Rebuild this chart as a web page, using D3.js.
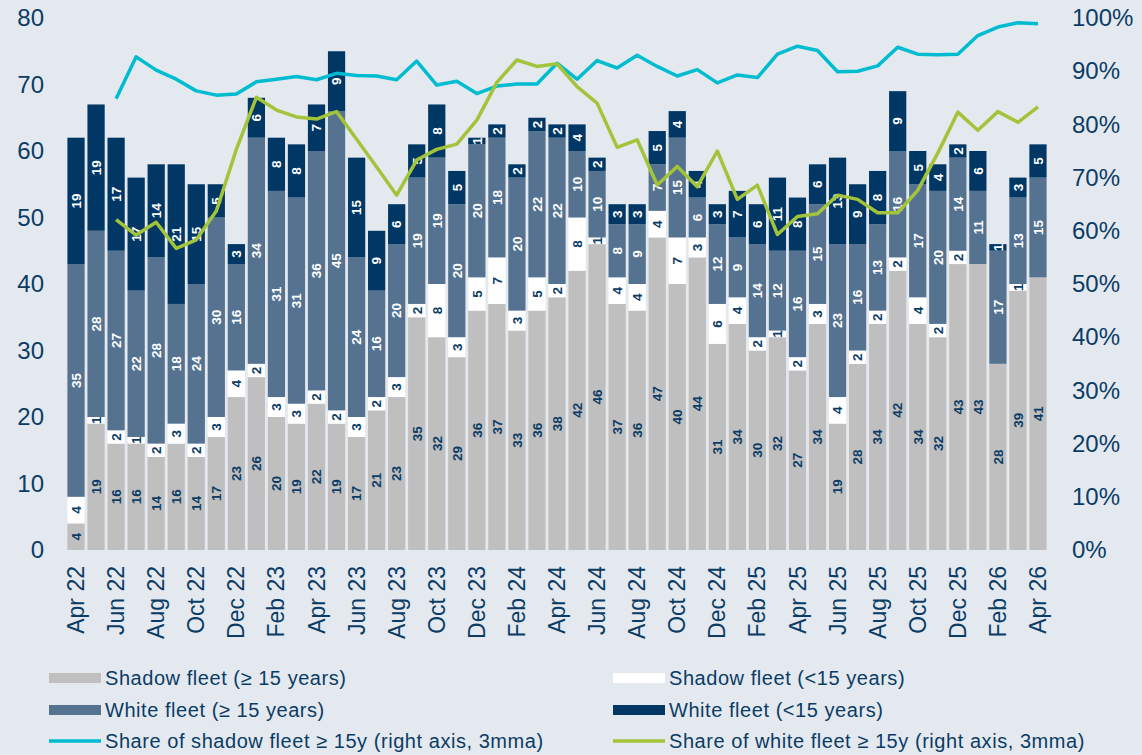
<!DOCTYPE html>
<html>
<head>
<meta charset="utf-8">
<script src="https://cdn.jsdelivr.net/npm/d3@7"></script>
<style>
  html, body { margin: 0; padding: 0; background: #e4e9ef; }
  svg { display: block; font-family: "Liberation Sans", Arial, sans-serif; }
</style>
</head>
<body>
<div id="chart"></div>
<script>
// months Apr 22 .. Apr 26
const months = ["Apr 22","May 22","Jun 22","Jul 22","Aug 22","Sep 22","Oct 22","Nov 22","Dec 22",
  "Jan 23","Feb 23","Mar 23","Apr 23","May 23","Jun 23","Jul 23","Aug 23","Sep 23","Oct 23","Nov 23","Dec 23",
  "Jan 24","Feb 24","Mar 24","Apr 24","May 24","Jun 24","Jul 24","Aug 24","Sep 24","Oct 24","Nov 24","Dec 24",
  "Jan 25","Feb 25","Mar 25","Apr 25","May 25","Jun 25","Jul 25","Aug 25","Sep 25","Oct 25","Nov 25","Dec 25",
  "Jan 26","Feb 26","Mar 26","Apr 26"];

// bar segments (number of vessels)
const shadowOld   = [4,19,16,16,14,16,14,17,23,26,20,19,22,19,17,21,23,35,32,29,36,37,33,36,38,42,46,37,36,47,40,44,31,34,30,32,27,34,19,28,34,42,34,32,43,43,28,39,41];
const shadowYoung = [4,1,2,1,2,3,2,3,4,2,3,3,2,2,3,2,3,2,8,3,5,7,3,5,2,8,1,4,4,4,7,3,6,4,2,1,2,3,4,2,2,2,4,2,2,0,0,1,0];
const whiteOld    = [35,28,27,22,28,18,24,30,16,34,31,31,36,45,24,16,20,19,19,20,20,18,20,22,22,10,10,8,9,7,15,6,12,9,14,12,16,15,23,16,13,16,17,20,14,11,17,13,15];
const whiteYoung  = [19,19,17,17,14,21,15,5,3,6,8,8,7,9,15,9,6,5,8,5,1,2,2,2,2,4,2,3,3,5,4,4,3,7,6,11,8,6,13,9,8,9,5,4,2,6,1,3,5];

// right axis lines (%, 3mma), first two months empty
const shadowShare = [null,null,84.8,92.7,90.2,88.5,86.3,85.5,85.7,88.0,88.5,89.0,88.4,89.6,89.2,89.1,88.4,91.9,87.4,88.1,85.8,87.2,87.6,87.6,91.5,88.5,92.0,90.6,93.0,90.9,89.1,90.3,87.8,89.3,88.8,93.2,94.7,93.9,89.9,90.0,91.0,94.5,93.2,93.1,93.2,96.7,98.3,99.1,98.9];
const whiteShare  = [null,null,62.1,59.2,61.6,56.7,58.3,63.7,75.3,85.1,82.7,81.4,81.0,82.4,77.2,72.0,66.7,73.3,75.3,76.3,80.8,87.9,92.1,90.9,91.4,87.1,84.0,75.7,77.1,68.6,72.1,68.3,75.0,65.9,68.6,59.3,62.7,63.2,66.7,65.9,63.4,63.4,67.6,74.6,82.3,78.9,82.4,80.4,83.3];

const leftTicks = [0,10,20,30,40,50,60,70,80];
const rightTicks = [0,10,20,30,40,50,60,70,80,90,100];

const seriesKeys = ["shadowOld","shadowYoung","whiteOld","whiteYoung"];
const seriesNames = {
  shadowOld: "Shadow fleet (\u2265 15 years)",
  shadowYoung: "Shadow fleet (<15 years)",
  whiteOld: "White fleet (\u2265 15 years)",
  whiteYoung: "White fleet (<15 years)"
};
const fillColor = { shadowOld: "#bfbfbf", shadowYoung: "#ffffff", whiteOld: "#557391", whiteYoung: "#003764" };
const textColor = { shadowOld: "#0b3c66", shadowYoung: "#0b3c66", whiteOld: "#ffffff", whiteYoung: "#ffffff" };
const navy = "#0b3c66";
const cyan = "#00bcd0";
const green = "#a3c43a";

const width = 1142, height = 755;

const rows = months.map((m, i) => ({
  month: m,
  shadowOld: shadowOld[i], shadowYoung: shadowYoung[i],
  whiteOld: whiteOld[i], whiteYoung: whiteYoung[i]
}));

const svg = d3.select("#chart").append("svg")
  .attr("width", width).attr("height", height)
  .attr("viewBox", `0 0 ${width} ${height}`);

svg.append("rect").attr("width", width).attr("height", height).attr("fill", "#e4e9ef");

const x = d3.scaleBand().domain(months).range([66, 1048]).paddingInner(0.14).paddingOuter(0.07);
const y = d3.scaleLinear().domain([0, 80]).range([550, 18]);
const yR = d3.scaleLinear().domain([0, 100]).range([550, 18]);

// bars
const stack = d3.stack().keys(seriesKeys)(rows);
const layers = svg.append("g").selectAll("g").data(stack).join("g")
  .attr("fill", d => fillColor[d.key]);
layers.selectAll("rect").data(d => d).join("rect")
  .attr("x", d => x(d.data.month))
  .attr("width", x.bandwidth())
  .attr("y", d => y(d[1]))
  .attr("height", d => y(d[0]) - y(d[1]));

// segment labels
stack.forEach(layer => {
  svg.append("g").selectAll("text")
    .data(layer.filter(d => d[1] - d[0] > 0))
    .join("text")
    .attr("transform", d => `translate(${x(d.data.month) + x.bandwidth() / 2 + 4.8},${y((d[0] + d[1]) / 2)}) rotate(-90)`)
    .attr("text-anchor", "middle")
    .attr("font-size", 13.5)
    .attr("font-weight", "bold")
    .attr("fill", textColor[layer.key])
    .text(d => d[1] - d[0]);
});

// lines
const line = d3.line()
  .defined(d => d.v != null)
  .x(d => x(d.m) + x.bandwidth() / 2)
  .y(d => yR(d.v));

svg.append("path")
  .datum(months.map((m, i) => ({ m, v: shadowShare[i] })))
  .attr("fill", "none").attr("stroke", cyan).attr("stroke-width", 3.5)
  .attr("stroke-linejoin", "round").attr("d", line);

svg.append("path")
  .datum(months.map((m, i) => ({ m, v: whiteShare[i] })))
  .attr("fill", "none").attr("stroke", green).attr("stroke-width", 3.5)
  .attr("stroke-linejoin", "round").attr("d", line);

// left axis
const leftAxis = svg.append("g").attr("transform", "translate(44,0)")
  .call(d3.axisLeft(y).tickValues(leftTicks).tickSize(0).tickPadding(0));
leftAxis.select(".domain").remove();
leftAxis.selectAll("text").attr("font-size", 24).attr("fill", navy)
  .attr("font-family", "Liberation Sans, Arial, sans-serif");

// right axis
const rightAxis = svg.append("g").attr("transform", "translate(1072,0)")
  .call(d3.axisRight(yR).tickValues(rightTicks).tickFormat(d => d + "%").tickSize(0).tickPadding(0));
rightAxis.select(".domain").remove();
rightAxis.selectAll("text").attr("font-size", 24).attr("fill", navy)
  .attr("font-family", "Liberation Sans, Arial, sans-serif");

// x labels every second month
const xAxis = svg.append("g").attr("transform", "translate(0,566)")
  .call(d3.axisBottom(x).tickValues(months.filter((m, i) => i % 2 === 0)).tickSize(0).tickPadding(0));
xAxis.select(".domain").remove();
xAxis.selectAll("text")
  .attr("font-size", 23).attr("fill", navy)
  .attr("font-family", "Liberation Sans, Arial, sans-serif")
  .attr("text-anchor", "end")
  .attr("dy", "0.35em").attr("dx", 0).attr("y", 0)
  .attr("transform", "rotate(-90)");

// legend
const legendItems = [
  { key: "shadowOld", col: 0, row: 0, type: "rect" },
  { key: "shadowYoung", col: 1, row: 0, type: "rect" },
  { key: "whiteOld", col: 0, row: 1, type: "rect" },
  { key: "whiteYoung", col: 1, row: 1, type: "rect" },
  { label: "Share of shadow fleet \u2265 15y (right axis, 3mma)", color: cyan, col: 0, row: 2, type: "line" },
  { label: "Share of white fleet \u2265 15y (right axis, 3mma)", color: green, col: 1, row: 2, type: "line" }
];
const colX = [49, 613];
const rowY = [678, 710, 741];
const lg = svg.append("g");
legendItems.forEach(it => {
  const gx = colX[it.col], gy = rowY[it.row];
  if (it.type === "rect") {
    lg.append("rect").attr("x", gx).attr("y", gy - 5).attr("width", 52).attr("height", 10)
      .attr("fill", fillColor[it.key]);
  } else {
    lg.append("line").attr("x1", gx).attr("x2", gx + 52).attr("y1", gy).attr("y2", gy)
      .attr("stroke", it.color).attr("stroke-width", 3.5);
  }
  lg.append("text").attr("x", gx + 56).attr("y", gy).attr("dy", "0.35em")
    .attr("font-size", 20).attr("letter-spacing", 0.55).attr("fill", navy)
    .text(it.label || seriesNames[it.key]);
});
</script>
</body>
</html>
